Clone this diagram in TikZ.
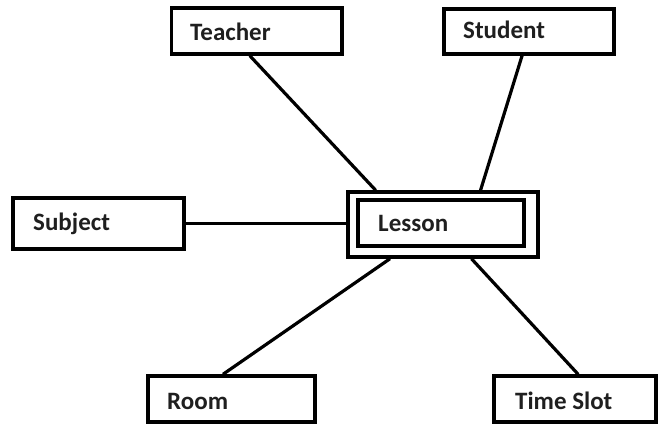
\documentclass[tikz,border=0pt]{standalone}
\usepackage{fontspec}
\setmainfont{Carlito}
\usetikzlibrary{calc}

\tikzset{
  entity/.style={draw=black, line width=3.4pt, fill=white, inner sep=0pt},
  lbl/.style={anchor=base west, inner sep=0pt, font=\bfseries\fontsize{25}{25}\selectfont, text=black!88},
  link/.style={draw=black, line width=3.2pt}
}

% a box given by its corners (x1,y1) and (x2,y2), in pixel-like units
\newcommand{\entitybox}[5]{%
  \node[entity, minimum width={(#4-#2)*1pt}, minimum height={(#5-#3)*1pt}]
    (#1) at ({(#2+#4)/2},{(#3+#5)/2}) {};}

\begin{document}
\begin{tikzpicture}[x=1pt, y=-1pt]
  \useasboundingbox (0,0) rectangle (660,425);

  \entitybox{teacher}{171.5}{8}{342}{54}
  \entitybox{student}{444}{9}{614}{54}
  \entitybox{subject}{13}{198}{184}{249}
  \entitybox{lessonout}{348}{192}{538}{257}
  \entitybox{lesson}{358}{200}{524}{246}
  \entitybox{room}{148}{376}{315}{422}
  \entitybox{timeslot}{494}{376}{656}{422}

  % connectors from each entity to the outer frame of the lesson
  \draw[link] ($(teacher.south west)!0.46!(teacher.south east)$) -- ($(lessonout.north west)!0.152!(lessonout.north east)$);
  \draw[link] ($(student.south west)!0.46!(student.south east)$) -- ($(lessonout.north west)!0.694!(lessonout.north east)$);
  \draw[link] (subject.east) -- (subject.east -| lessonout.west);
  \draw[link] ($(room.north west)!0.45!(room.north east)$) -- ($(lessonout.south west)!0.226!(lessonout.south east)$);
  \draw[link] ($(timeslot.north west)!0.519!(timeslot.north east)$) -- ($(lessonout.south west)!0.647!(lessonout.south east)$);

  \node[lbl] (teacher-t) at (190,41) {Teacher};
  \node[lbl] (student-t) at (463,39) {Student};
  \node[lbl] (subject-t) at (33,230) {Subject};
  \node[lbl] (lesson-t) at (378,231) {Lesson};
  \node[lbl] (room-t) at (167,409) {Room};
  \node[lbl] (timeslot-t) at (515,409) {Time Slot};
\end{tikzpicture}
\end{document}
